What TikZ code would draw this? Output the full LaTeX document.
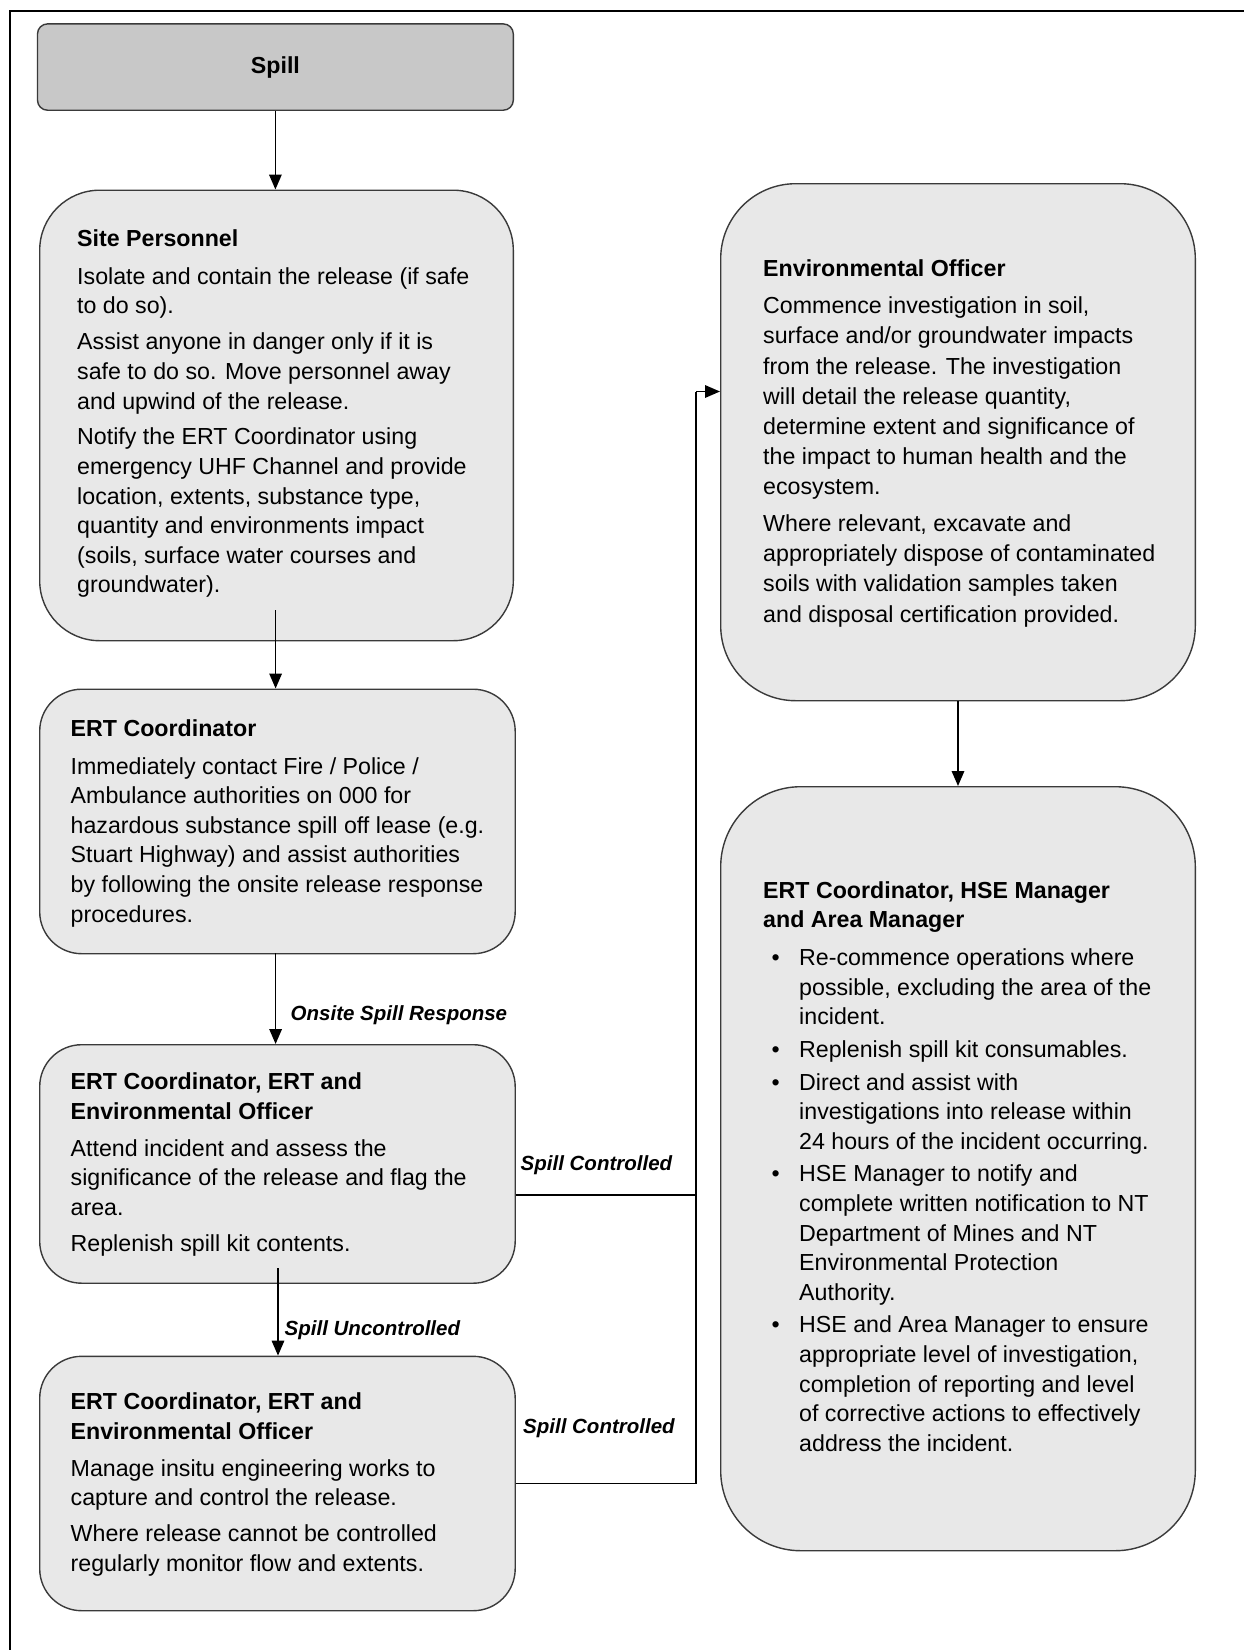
\documentclass[tikz,border=0pt]{standalone}
\usepackage{fontspec}
\setmainfont{Liberation Sans}
\usetikzlibrary{arrows.meta,calc}
\definecolor{boxfill}{HTML}{E8E8E8}
\definecolor{spillfill}{HTML}{C8C8C8}
\definecolor{boxline}{HTML}{3A3A3A}
\begin{document}
\begin{tikzpicture}[x=1pt,y=-1pt,
  box/.style={draw=boxline, line width=1.4pt, fill=boxfill, inner sep=0pt, anchor=north west},
  txt/.style={anchor=north west, inner sep=0pt, align=left, font=\fontsize{23.2}{29.6}\selectfont, text=black},
  lbl/.style={anchor=west, inner sep=0pt, font=\fontsize{20.5}{24}\selectfont\bfseries\itshape},
  arr/.style={line width=1.7pt, -{Triangle[length=15pt,width=12.5pt]}},
  link/.style={line width=1.7pt}]
\useasboundingbox (0,0) rectangle (1244,1650);
% frame
\draw[line width=2pt] (10,1650) -- (10,11) -- (1244,11);

% boxes
\node[box, fill=spillfill, rounded corners=10pt, minimum width=475.8pt, minimum height=86.3pt] (spill) at (36.8,23.2) {};
\node[font=\fontsize{23.2}{28}\selectfont\bfseries] (tspill) at (spill.center) {Spill};
\node[box, rounded corners=60pt, minimum width=473.6pt, minimum height=450.5pt] (site) at (39,189.5) {};
\node[box, rounded corners=42pt, minimum width=475.5pt, minimum height=264.5pt] (ert) at (39,688.5) {};
\node[box, rounded corners=42pt, minimum width=475.5pt, minimum height=238.5pt] (ert1) at (39,1044) {};
\node[box, rounded corners=42pt, minimum width=475.5pt, minimum height=254.4pt] (ert2) at (39,1355.6) {};
\node[box, rounded corners=75pt, minimum width=474.6pt, minimum height=517pt] (env) at (720,183) {};
\node[box, rounded corners=80pt, minimum width=474.6pt, minimum height=764pt] (hse) at (720,786) {};

% box texts
\node[txt] (tsite) at (77,229.2) {\textbf{Site Personnel}\\[8.5pt]
Isolate and contain the release (if safe\\
to do so).\\[6.3pt]
Assist anyone in danger only if it is\\
safe to do so. Move personnel away\\
and upwind of the release.\\[6.3pt]
Notify the ERT Coordinator using\\
emergency UHF Channel and provide\\
location, extents, substance type,\\
quantity and environments impact\\
(soils, surface water courses and\\
groundwater).};

\node[txt] (tert) at (70.5,719) {\textbf{ERT Coordinator}\\[8.5pt]
Immediately contact Fire / Police /\\
Ambulance authorities on 000 for\\
hazardous substance spill off lease (e.g.\\
Stuart Highway) and assist authorities\\
by following the onsite release response\\
procedures.};

\node[txt] (tert1) at (70.5,1072.5) {\textbf{ERT Coordinator, ERT and}\\
\textbf{Environmental Officer}\\[7.5pt]
Attend incident and assess the\\
significance of the release and flag the\\
area.\\[6.3pt]
Replenish spill kit contents.};

\node[txt] (tert2) at (70.5,1392.5) {\textbf{ERT Coordinator, ERT and}\\
\textbf{Environmental Officer}\\[7.5pt]
Manage insitu engineering works to\\
capture and control the release.\\[6.3pt]
Where release cannot be controlled\\
regularly monitor flow and extents.};

\node[txt, font=\fontsize{23.2}{30.2}\selectfont] (tenv) at (763,259.5) {\textbf{Environmental Officer}\\[7pt]
Commence investigation in soil,\\
surface and/or groundwater impacts\\
from the release. The investigation\\
will detail the release quantity,\\
determine extent and significance of\\
the impact to human health and the\\
ecosystem.\\[6.3pt]
Where relevant, excavate and\\
appropriately dispose of contaminated\\
soils with validation samples taken\\
and disposal certification provided.};

\node[txt] (thse) at (763,881) {\textbf{ERT Coordinator, HSE Manager}\\
\textbf{and Area Manager}\\[8.5pt]
\hspace*{8.5pt}\makebox[27.5pt][l]{\textbullet}Re-commence operations where\\
\hspace*{36pt}possible, excluding the area of the\\
\hspace*{36pt}incident.\\[3pt]
\hspace*{8.5pt}\makebox[27.5pt][l]{\textbullet}Replenish spill kit consumables.\\[3pt]
\hspace*{8.5pt}\makebox[27.5pt][l]{\textbullet}Direct and assist with\\
\hspace*{36pt}investigations into release within\\
\hspace*{36pt}24 hours of the incident occurring.\\[3pt]
\hspace*{8.5pt}\makebox[27.5pt][l]{\textbullet}HSE Manager to notify and\\
\hspace*{36pt}complete written notification to NT\\
\hspace*{36pt}Department of Mines and NT\\
\hspace*{36pt}Environmental Protection\\
\hspace*{36pt}Authority.\\[3pt]
\hspace*{8.5pt}\makebox[27.5pt][l]{\textbullet}HSE and Area Manager to ensure\\
\hspace*{36pt}appropriate level of investigation,\\
\hspace*{36pt}completion of reporting and level\\
\hspace*{36pt}of corrective actions to effectively\\
\hspace*{36pt}address the incident.};

% junction points of the right-hand bus
\coordinate (j1) at (696,1195);
\coordinate (j3) at (696,391.5);

% connectors
\draw[arr] (spill.south) -- (spill.south |- site.north);
\coordinate (s1) at (275.6,610);
\draw[arr] (s1) -- (s1 |- ert.north);
\coordinate (s2) at (275.6,953);
\draw[arr] (s2) -- (s2 |- ert1.north);
\coordinate (s3) at (278,1268);
\draw[arr] (s3) -- (s3 |- ert2.north);
\draw[link] (ert1.east |- j1) -- (j1);
\draw[link] (ert2.east) -- (ert2.east -| j1) -- (j3);
\draw[arr] (j3) -- (j3 -| env.west);
\draw[arr] (env.south) -- (hse.north);

% connector labels
\node[lbl] (l1) at (290.5,1015.5) {Onsite Spill Response};
\node[lbl] (l2) at (284.5,1330) {Spill Uncontrolled};
\node[lbl] (l3) at (520.5,1165.5) {Spill Controlled};
\node[lbl] (l4) at (523,1428) {Spill Controlled};
\end{tikzpicture}
\end{document}
